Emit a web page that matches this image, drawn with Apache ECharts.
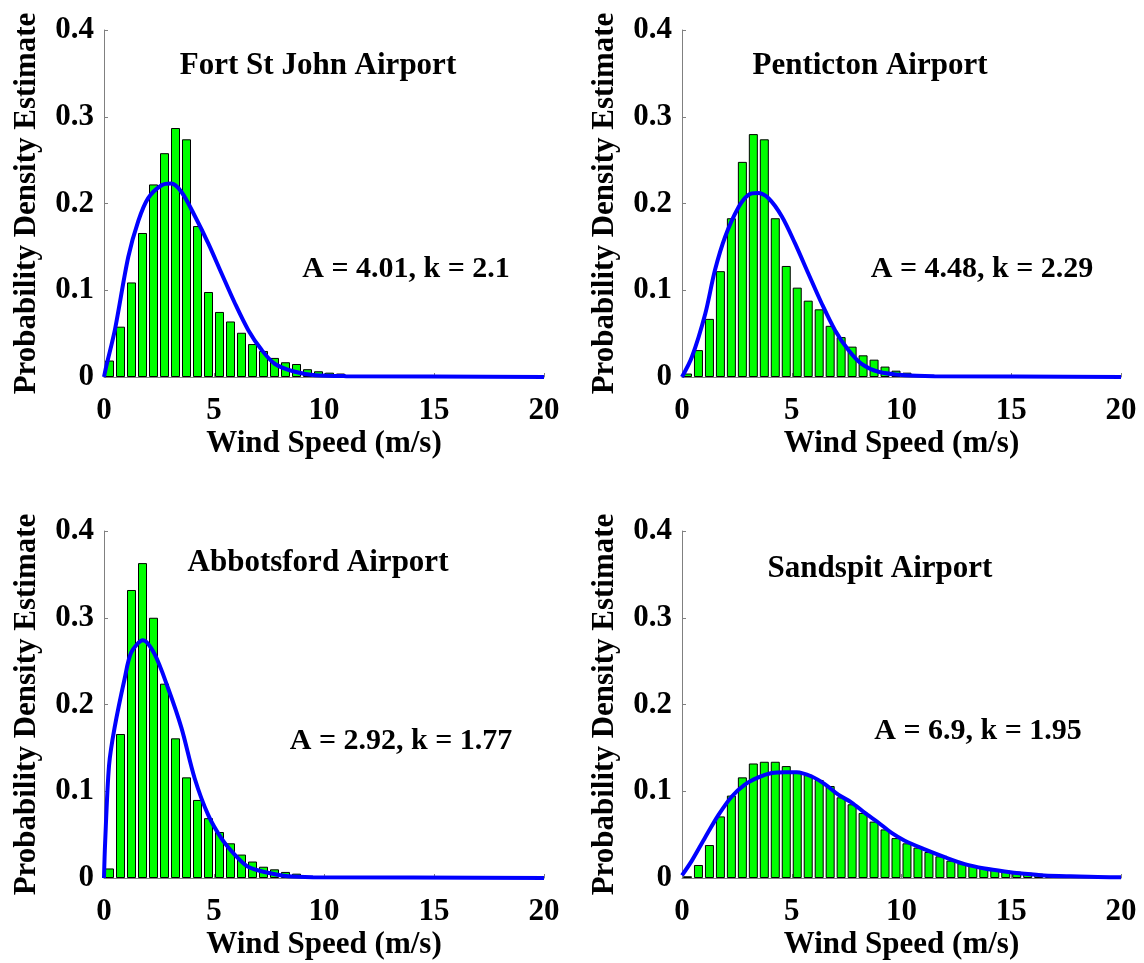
<!DOCTYPE html>
<html>
<head>
<meta charset="utf-8">
<script src="https://cdn.jsdelivr.net/npm/echarts@6/dist/echarts.min.js"></script>
<style>
  html, body { margin: 0; padding: 0; background: #fff; }
  #chart { width: 1144px; height: 963px; }
</style>
</head>
<body>
<div id="chart"></div>
<script>
// bin centres (0.5 m/s bins)
const binCenters = [0.25, 0.75, 1.25, 1.75, 2.25, 2.75, 3.25, 3.75, 4.25, 4.75,
  5.25, 5.75, 6.25, 6.75, 7.25, 7.75, 8.25, 8.75, 9.25, 9.75,
  10.25, 10.75, 11.25, 11.75, 12.25, 12.75, 13.25, 13.75, 14.25, 14.75,
  15.25, 15.75, 16.25, 16.75, 17.25, 17.75, 18.25, 18.75, 19.25, 19.75];

// histogram heights
const fsjBars = [0.019, 0.058, 0.109, 0.166, 0.222, 0.258, 0.287, 0.274, 0.174, 0.098,
  0.075, 0.064, 0.051, 0.038, 0.030, 0.022, 0.017, 0.015, 0.009, 0.0066,
  0.005, 0.004, 0.002];
const pentBars = [0.004, 0.031, 0.067, 0.122, 0.183, 0.248, 0.280, 0.274, 0.183, 0.128,
  0.103, 0.088, 0.078, 0.059, 0.046, 0.035, 0.025, 0.020, 0.012, 0.0073,
  0.005, 0.003, 0.002];
const abbBars = [0.011, 0.166, 0.332, 0.363, 0.300, 0.224, 0.161, 0.116, 0.090, 0.069,
  0.053, 0.040, 0.027, 0.019, 0.013, 0.010, 0.007, 0.005, 0.002];
const sandBars = [0.002, 0.015, 0.038, 0.071, 0.095, 0.116, 0.132, 0.134, 0.134, 0.129,
  0.122, 0.119, 0.113, 0.106, 0.093, 0.085, 0.075, 0.065, 0.056, 0.046,
  0.040, 0.035, 0.030, 0.025, 0.020, 0.017, 0.014, 0.012, 0.0095, 0.0085,
  0.0073, 0.006, 0.005, 0.004, 0.003, 0.002];

// fitted curves
const fsjCurveX = [0, 0.1, 0.5, 1.1, 1.56, 2.0, 2.62, 3.05, 3.53, 4.14, 4.74, 5.35, 5.95, 6.56, 7.17, 7.77, 8.68, 9.6, 11, 20];
const fsjCurveY = [0, 0.012, 0.055, 0.138, 0.18, 0.206, 0.221, 0.223, 0.213, 0.185, 0.154, 0.119, 0.085, 0.054, 0.031, 0.015, 0.006, 0.002, 0.001, 0];
const pentCurveX = [0, 0.45, 1.06, 1.5, 1.97, 2.58, 3.03, 3.45, 3.94, 4.55, 5.15, 5.76, 6.36, 6.97, 7.58, 8.18, 8.94, 10.15, 11.5, 20];
const pentCurveY = [0, 0.023, 0.073, 0.123, 0.162, 0.196, 0.21, 0.212, 0.206, 0.185, 0.154, 0.119, 0.085, 0.054, 0.031, 0.015, 0.006, 0.002, 0.001, 0];
const abbCurveX = [0, 0.05, 0.23, 0.48, 0.94, 1.24, 1.77, 2.3, 2.91, 3.52, 4.12, 4.73, 5.33, 5.94, 6.55, 7.45, 8.36, 9.5, 20];
const abbCurveY = [0, 0.04, 0.13, 0.173, 0.23, 0.26, 0.274, 0.258, 0.219, 0.173, 0.115, 0.073, 0.046, 0.027, 0.013, 0.006, 0.002, 0.001, 0];
const sandCurveX = [0, 0.45, 1.06, 1.67, 2.27, 2.88, 3.48, 4.09, 4.7, 5.23, 5.91, 6.52, 7.12, 7.73, 8.33, 8.94, 9.55, 10.15,
  11.06, 11.97, 12.88, 13.79, 14.7, 15.6, 16.5, 17.7, 19.5, 20];
const sandCurveY = [0.003, 0.02, 0.047, 0.073, 0.094, 0.108, 0.116, 0.121, 0.122, 0.122, 0.117, 0.108, 0.096, 0.087, 0.075, 0.064, 0.052, 0.043,
  0.033, 0.024, 0.016, 0.011, 0.0076, 0.005, 0.003, 0.002, 0.001, 0.001];

const titles = ['Fort St John Airport', 'Penticton Airport', 'Abbotsford Airport', 'Sandspit Airport'];
const fitLabels = ['A = 4.01, k = 2.1', 'A = 4.48, k = 2.29', 'A = 2.92, k = 1.77', 'A = 6.9, k = 1.95'];
const xTicks = [0, 5, 10, 15, 20];
const yTicks = [0, 0.1, 0.2, 0.3, 0.4];

const panels = [
  { bars: fsjBars, cx: fsjCurveX, cy: fsjCurveY, grid: [104, 30, 440, 347], title: [318, 66], fit: [406, 269] },
  { bars: pentBars, cx: pentCurveX, cy: pentCurveY, grid: [682, 30, 439, 347], title: [870, 66], fit: [982, 269] },
  { bars: abbBars, cx: abbCurveX, cy: abbCurveY, grid: [104, 531, 440, 347], title: [318, 563], fit: [401, 741] },
  { bars: sandBars, cx: sandCurveX, cy: sandCurveY, grid: [682, 531, 439, 347], title: [880, 569], fit: [978, 731] }
];

const FONT = 'Liberation Serif';
const axisGray = '#808080';

const grids = [], xAxes = [], yAxes = [], series = [], graphics = [];

panels.forEach(function (p, i) {
  grids.push({ left: p.grid[0], top: p.grid[1], width: p.grid[2], height: p.grid[3] });

  xAxes.push({
    type: 'value', gridIndex: i, min: xTicks[0], max: xTicks[xTicks.length - 1], interval: 5,
    name: 'Wind Speed (m/s)', nameLocation: 'middle', nameGap: 51,
    nameTextStyle: { fontFamily: FONT, fontWeight: 'bold', fontSize: 31, color: '#000' },
    axisLine: { show: true, lineStyle: { color: axisGray, width: 1 } },
    axisTick: { show: true, inside: true, length: 4, lineStyle: { color: axisGray } },
    axisLabel: { fontFamily: FONT, fontWeight: 'bold', fontSize: 31, color: '#000', margin: 18 },
    splitLine: { show: false }
  });

  yAxes.push({
    type: 'value', gridIndex: i, min: yTicks[0], max: yTicks[yTicks.length - 1], interval: 0.1,
    name: 'Probability Density Estimate', nameLocation: 'middle', nameGap: 62,
    nameTextStyle: { fontFamily: FONT, fontWeight: 'bold', fontSize: 31, color: '#000' },
    axisLine: { show: true, lineStyle: { color: axisGray, width: 1 } },
    axisTick: { show: true, inside: true, length: 4, lineStyle: { color: axisGray } },
    axisLabel: {
      fontFamily: FONT, fontWeight: 'bold', fontSize: 31, color: '#000', margin: 10,
      formatter: function (v) { return v === 0 ? '0' : v.toFixed(1); }
    },
    splitLine: { show: false }
  });

  series.push({
    type: 'bar', xAxisIndex: i, yAxisIndex: i, barWidth: 9,
    data: p.bars.map(function (v, j) { return [binCenters[j], v]; }),
    itemStyle: { color: '#00ff00', borderColor: '#000', borderWidth: 1 },
    animation: false, z: 2
  });

  series.push({
    type: 'line', xAxisIndex: i, yAxisIndex: i, showSymbol: false, symbol: 'none', smooth: 0.3,
    data: p.cx.map(function (x, j) { return [x, p.cy[j]]; }),
    lineStyle: { color: '#0000ff', width: 4 },
    animation: false, z: 3
  });

  graphics.push({
    type: 'text', x: p.title[0], y: p.title[1],
    style: { text: titles[i], font: 'bold 31px "' + FONT + '"', fill: '#000', align: 'center', verticalAlign: 'middle' }
  });
  graphics.push({
    type: 'text', x: p.fit[0], y: p.fit[1],
    style: { text: fitLabels[i], font: 'bold 30px "' + FONT + '"', fill: '#000', align: 'center', verticalAlign: 'middle' }
  });
});

const chart = echarts.init(document.getElementById('chart'), null, { renderer: 'canvas' });
chart.setOption({
  animation: false,
  backgroundColor: '#fff',
  grid: grids,
  xAxis: xAxes,
  yAxis: yAxes,
  series: series,
  graphic: graphics
});
</script>
</body>
</html>
